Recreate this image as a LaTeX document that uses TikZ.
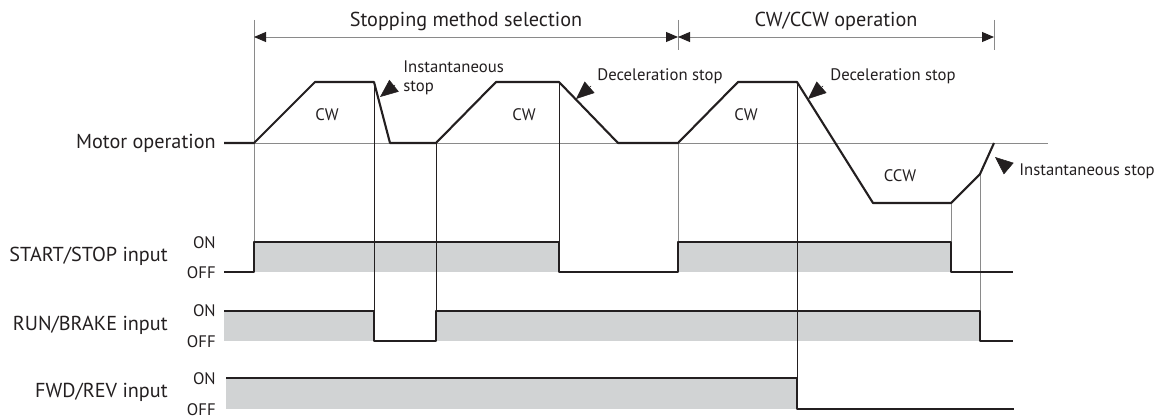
\documentclass[tikz,border=0pt]{standalone}
\usepackage{fontspec}
\setmainfont{PT Sans}
\usetikzlibrary{arrows.meta,positioning}
\definecolor{tinta}{HTML}{231F20}
\definecolor{fundo}{HTML}{D1D3D4}
\definecolor{guiacor}{HTML}{8A8A8A}

\begin{document}
\begin{tikzpicture}[x=0.02cm, y=-0.02cm,
onda/.style={line width=1.2pt, draw=tinta, line join=round},
guia/.style={line width=0.5pt, draw=guiacor},
guiaesc/.style={line width=0.5pt, draw=tinta},
sombra/.style={fill=fundo, draw=none},
cota/.style={{Triangle[length=2.4mm,width=2mm,color=tinta]}-{Triangle[length=2.4mm,width=2mm,color=tinta]}, line width=0.5pt, draw=guiacor},
aponta/.style={-{Triangle[length=3.6mm,width=3mm]}, draw=tinta, fill=tinta, line width=0.3pt},
titulo/.style={font=\fontsize{11.5}{13}\selectfont, text=tinta, inner sep=0pt},
sinal/.style={font=\fontsize{11.5}{13}\selectfont, text=tinta, inner sep=0pt, anchor=east},
nivel/.style={font=\fontsize{9.5}{11}\selectfont, text=tinta, inner sep=0pt, anchor=east},
nota/.style={font=\fontsize{9.5}{11}\selectfont, text=tinta, inner sep=0pt, anchor=west, align=left},
sentido/.style={font=\fontsize{9.5}{11}\selectfont, text=tinta, inner sep=0pt}
]
\useasboundingbox (0,0) rectangle (1176,418);

% faixas cinzas dos sinais
\fill[sombra] (254,242) rectangle (559,272);
\fill[sombra] (678,242) rectangle (951,272);
\fill[sombra] (224,311) rectangle (374,341);
\fill[sombra] (436,311) rectangle (980,341);
\fill[sombra] (226,378) rectangle (797,409);

% linhas de referencia
\draw[guia] (254,143) -- (1048,143);
\draw[guia] (254,20) -- (254,242);
\draw[guia] (678,20) -- (678,50);
\draw[guia] (678,143) -- (678,242);
\draw[guia] (994,20) -- (994,50);
\draw[guia] (951,203) -- (951,242);
\draw[guia] (980,174) -- (980,311);
\draw[guiaesc] (374,82) -- (374,341);
\draw[guiaesc] (436,143) -- (436,311);
\draw[guiaesc] (559,82) -- (559,242);
\draw[guiaesc] (797,82) -- (797,378);

% cotas
\coordinate (c1) at (254,37);
\coordinate (c2) at (678,37);
\coordinate (c3) at (994,37);
\draw[cota] (c1) -- (c2);
\draw[cota] (c2) -- (c3);
\node[titulo] (selecao) at (466,21) {Stopping method selection};
\node[titulo] (operacao) at (836,21) {CW/CCW operation};

% rotulos
\node[sinal] (motor) at (216,143) {Motor operation};
\node[sinal] (startstop) at (168,256) {START/STOP input};
\node[sinal] (runbrake) at (168,325) {RUN/BRAKE input};
\node[sinal] (fwdrev) at (168,392) {FWD/REV input};
\node[nivel] (on1) at (216,243) {ON};
\node[nivel] (off1) at (216,273) {OFF};
\node[nivel] (on2) at (216,311) {ON};
\node[nivel] (off2) at (216,342) {OFF};
\node[nivel] (on3) at (216,379) {ON};
\node[nivel] (off3) at (216,410) {OFF};

% operacao do motor
\draw[onda] (224,143) -- (254,143) -- (315,82) -- (374,82) -- (390,143) -- (436,143)
  -- (496,82) -- (559,82) -- (618,143) -- (678,143) -- (738,82) -- (797,82)
  -- (873,203) -- (951,203) -- (980,174) -- (994,143);
\node[sentido] (cw1) at (327,115) {CW};
\node[sentido] (cw2) at (524,115) {CW};
\node[sentido] (cw3) at (746,115) {CW};
\node[sentido] (ccw) at (900,176) {CCW};

% sinais de entrada
\draw[onda] (224,272) -- (254,272) -- (254,242) -- (559,242) -- (559,272) -- (678,272)
  -- (678,242) -- (951,242) -- (951,272) -- (1013,272);
\draw[onda] (224,311) -- (374,311) -- (374,341) -- (436,341) -- (436,311) -- (980,311)
  -- (980,341) -- (1013,341);
\draw[onda] (226,378) -- (797,378) -- (797,409) -- (1014,409);

% notas de parada
\node[nota] (inst1) at (403,78) {Instantaneous\\stop};
\node[nota] (desac1) at (597,76) {Deceleration stop};
\node[nota] (desac2) at (830,76) {Deceleration stop};
\node[nota] (inst2) at (1019,171) {Instantaneous stop};
\coordinate (p1) at (380,97);
\coordinate (p2) at (576,99);
\coordinate (p3) at (808,99);
\coordinate (p4) at (995,157);
\draw[aponta] (395,85) -- (p1);
\draw[aponta] (591,86) -- (p2);
\draw[aponta] (823,86) -- (p3);
\draw[aponta] (1008,168) -- (p4);
\end{tikzpicture}
\end{document}
